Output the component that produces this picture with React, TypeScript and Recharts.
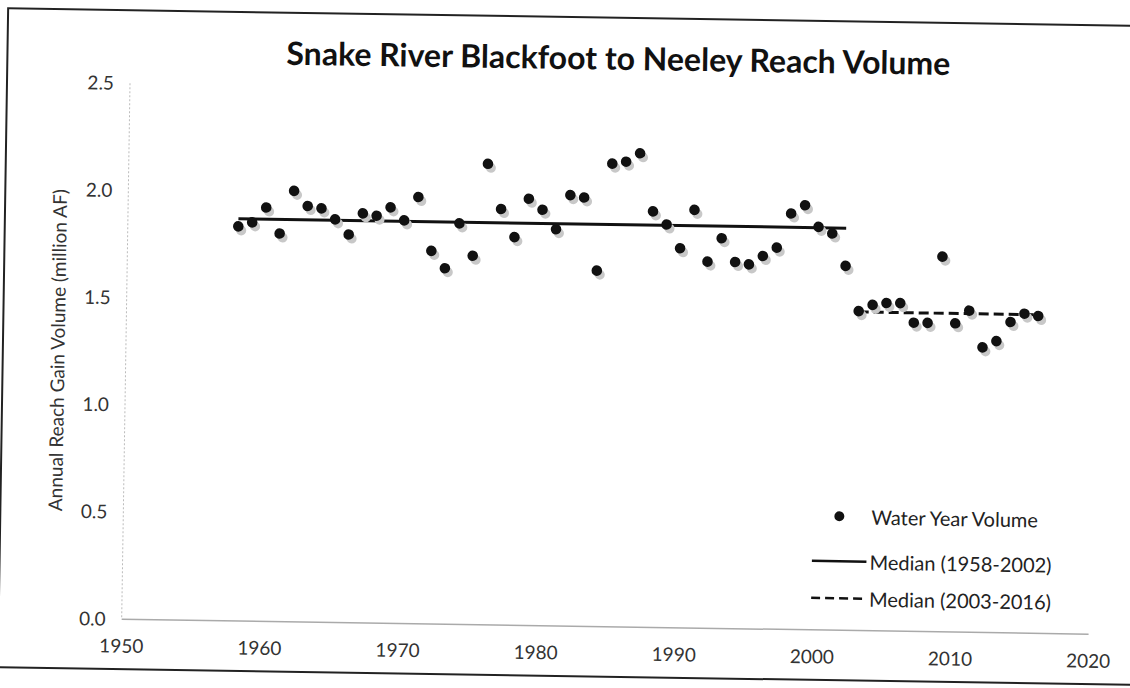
import { ComposedChart, Line, Scatter, XAxis, YAxis } from "recharts";

const years = [
  1958, 1959, 1960, 1961, 1962, 1963, 1964, 1965, 1966, 1967, 1968, 1969, 1970, 1971, 1972,
  1973, 1974, 1975, 1976, 1977, 1978, 1979, 1980, 1981, 1982, 1983, 1984, 1985, 1986, 1987,
  1988, 1989, 1990, 1991, 1992, 1993, 1994, 1995, 1996, 1997, 1998, 1999, 2000, 2001, 2002,
  2003, 2004, 2005, 2006, 2007, 2008, 2009, 2010, 2011, 2012, 2013, 2014, 2015, 2016,
];

// annual reach gain volume, million AF
const volumes = [
  1.84, 1.86, 1.93, 1.81, 2.01, 1.94, 1.93, 1.88, 1.81, 1.91, 1.9, 1.94, 1.88, 1.99, 1.74,
  1.66, 1.87, 1.72, 2.15, 1.94, 1.81, 1.99, 1.94, 1.85, 2.01, 2.0, 1.66, 2.16, 2.17, 2.21,
  1.94, 1.88, 1.77, 1.95, 1.71, 1.82, 1.71, 1.7, 1.74, 1.78, 1.94, 1.98, 1.88, 1.85, 1.7,
  1.49, 1.52, 1.53, 1.53, 1.44, 1.44, 1.75, 1.44, 1.5, 1.33, 1.36, 1.45, 1.49, 1.48,
];

const earlyYears = [1958, 2002];
const lateYears = [2003, 2016];
const earlyMedian = 1.876;
const lateMedian = 1.486;

const xTicks = [1950, 1960, 1970, 1980, 1990, 2000, 2010, 2020];
const yTicks = [0, 0.5, 1, 1.5, 2, 2.5];

const FONT = "Lato, 'Open Sans', sans-serif";

const points = years.map((year, i) => ({ year, volume: volumes[i] }));
const earlyLine = earlyYears.map((year) => ({ year, median: earlyMedian }));
const lateLine = lateYears.map((year) => ({ year, median: lateMedian }));

function ShadowDot(props: any) {
  const { cx, cy } = props;
  if (cx == null || cy == null) return null;
  return (
    <g>
      <circle cx={cx + 3} cy={cy + 4} r={5} fill="#c8c8c8" />
      <circle cx={cx} cy={cy} r={5.3} fill="#111" />
    </g>
  );
}

function LegendBox() {
  const row = { display: "flex", alignItems: "center", fontFamily: FONT, fontSize: 20, color: "#222" };
  return (
    <div style={{ position: "absolute", left: 815, top: 492, width: 300 }}>
      <div style={{ ...row, height: 40 }}>
        <svg width={55} height={14}>
          <circle cx={27} cy={7} r={5} fill="#111" />
        </svg>
        <span style={{ marginLeft: 4 }}>Water Year Volume</span>
      </div>
      <div style={{ ...row, height: 50 }}>
        <svg width={55} height={6}>
          <line x1={0} y1={3} x2={55} y2={3} stroke="#111" strokeWidth={2.5} />
        </svg>
        <span style={{ marginLeft: 3 }}>Median (1958-2002)</span>
      </div>
      <div style={{ ...row, height: 24 }}>
        <svg width={55} height={6}>
          <line x1={0} y1={3} x2={55} y2={3} stroke="#111" strokeWidth={2.5} strokeDasharray="9 5" />
        </svg>
        <span style={{ marginLeft: 3 }}>Median (2003-2016)</span>
      </div>
    </div>
  );
}

export default function App() {
  return (
    <div style={{ position: "fixed", left: 0, top: 0, width: 1130, height: 688, overflow: "hidden", background: "#fff" }}>
      <div
        style={{
          position: "absolute",
          left: 0,
          top: 0,
          width: 1130,
          height: 688,
          transform: "rotate(0.89deg)",
          transformOrigin: "565px 344px",
        }}
      >
        <div
          style={{
            position: "absolute",
            left: 2,
            top: 16,
            width: 1140,
            height: 661,
            border: "2px solid #222",
            boxSizing: "border-box",
          }}
        />
        <div
          style={{
            position: "absolute",
            left: 114,
            width: 1000,
            top: 39,
            lineHeight: "36px",
            textAlign: "center",
            fontFamily: FONT,
            fontSize: 32,
            fontWeight: 700,
            color: "#111",
          }}
        >
          Snake River Blackfoot to Neeley Reach Volume
        </div>
        <ComposedChart width={1130} height={688} margin={{ top: 90, right: 37, bottom: 12, left: 0 }}>
          <XAxis
            dataKey="year"
            type="number"
            domain={[1950, 2020]}
            ticks={xTicks}
            tickLine={false}
            tickSize={0}
            tickMargin={20}
            height={50}
            axisLine={{ stroke: "#aaa", strokeWidth: 1.5 }}
            tick={{ fill: "#333", fontSize: 19, fontFamily: FONT }}
          />
          <YAxis
            type="number"
            domain={[0, 2.5]}
            ticks={yTicks}
            width={126}
            tickLine={false}
            tickSize={0}
            tickMargin={16}
            axisLine={{ stroke: "#bbb", strokeDasharray: "2 2" }}
            tickFormatter={(v: number) => v.toFixed(1)}
            tick={{ fill: "#333", fontSize: 19, fontFamily: FONT }}
            label={{
              value: "Annual Reach Gain Volume (million AF)",
              angle: -90,
              position: "insideLeft",
              offset: 58,
              style: { textAnchor: "middle", fill: "#333", fontSize: 19, fontFamily: FONT },
            }}
          />
          <Line
            data={earlyLine}
            dataKey="median"
            stroke="#111"
            strokeWidth={3}
            dot={false}
            isAnimationActive={false}
            legendType="none"
          />
          <Line
            data={lateLine}
            dataKey="median"
            stroke="#111"
            strokeWidth={3}
            strokeDasharray="10 5"
            dot={false}
            isAnimationActive={false}
            legendType="none"
          />
          <Scatter data={points} dataKey="volume" shape={ShadowDot} isAnimationActive={false} />
        </ComposedChart>
        <LegendBox />
      </div>
    </div>
  );
}
